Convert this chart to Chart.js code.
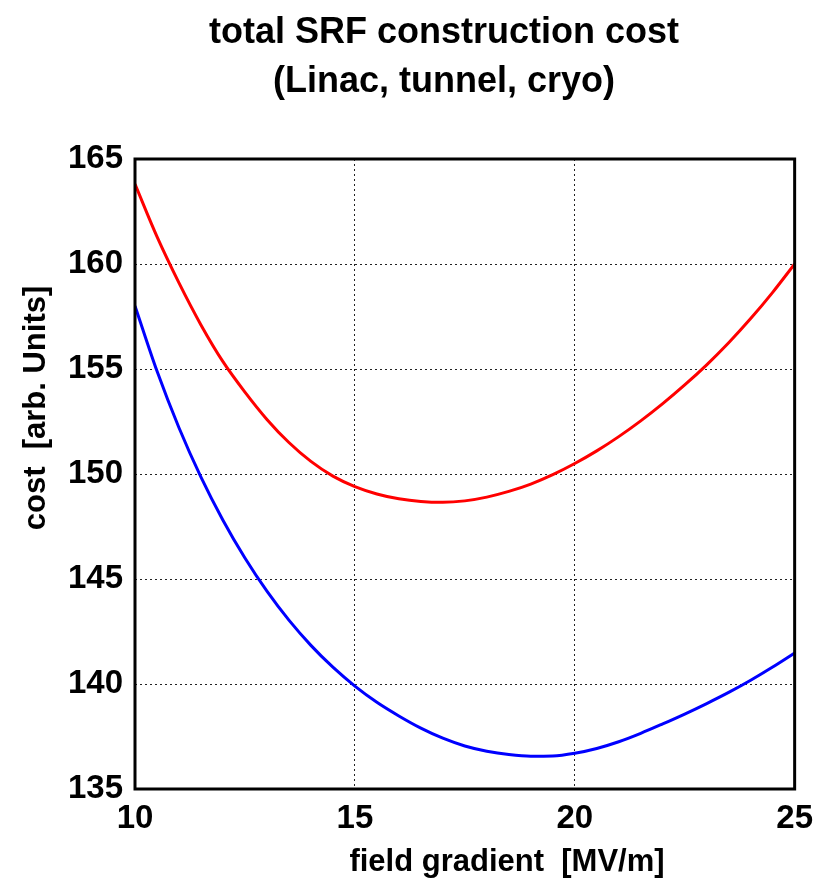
<!DOCTYPE html>
<html>
<head>
<meta charset="utf-8">
<script src="https://cdn.jsdelivr.net/npm/chart.js@4/dist/chart.umd.min.js"></script>
<style>
  html, body { margin: 0; padding: 0; background: #fff; }
  #wrap { width: 823px; height: 886px; }
</style>
</head>
<body>
<div id="wrap"><canvas id="costChart" width="823" height="886"></canvas></div>
<script>
// field gradient [MV/m]
const gradients = [10, 10.5, 11, 11.5, 12, 12.5, 13, 13.5, 14, 14.5, 15, 15.5, 16, 16.5, 17, 17.5,
                   18, 18.5, 19, 19.5, 20, 20.5, 21, 21.5, 22, 22.5, 23, 23.5, 24, 24.5, 25];
// upper curve (red)
const costRed = [163.8, 161.3, 159.1, 157.1, 155.35, 153.9, 152.6, 151.5, 150.6, 149.9, 149.4, 149.05,
                 148.82, 148.69, 148.65, 148.72, 148.9, 149.17, 149.52, 149.97, 150.5, 151.1, 151.78,
                 152.53, 153.35, 154.24, 155.2, 156.25, 157.4, 158.65, 160.0];
// lower curve (blue)
const costBlue = [158.0, 154.9, 152.2, 149.85, 147.8, 146.0, 144.42, 143.04, 141.84, 140.8, 139.9, 139.13,
                  138.48, 137.9, 137.42, 137.05, 136.8, 136.64, 136.56, 136.57, 136.7, 136.93, 137.25,
                  137.65, 138.1, 138.57, 139.07, 139.6, 140.18, 140.81, 141.48];

const xTicks = [10, 15, 20, 25];
const yTicks = [135, 140, 145, 150, 155, 160, 165];

const titleLines = ['total SRF construction cost', '(Linac, tunnel, cryo)'];
const xLabel = 'field gradient  [MV/m]';
const yLabel = 'cost  [arb. Units]';

const FONT = "'Liberation Sans', Arial, Helvetica, sans-serif";

const toPoints = (ys) => gradients.map((g, i) => ({ x: g, y: ys[i] }));

// titles, axis labels and the axes box
const framePlugin = {
  id: 'frame',
  afterDraw(chart) {
    const { ctx, chartArea: a } = chart;
    ctx.save();
    ctx.strokeStyle = '#000';
    ctx.lineWidth = 3;
    ctx.strokeRect(a.left, a.top, a.right - a.left, a.bottom - a.top);

    ctx.fillStyle = '#000';
    ctx.textAlign = 'center';
    ctx.textBaseline = 'middle';
    ctx.font = 'bold 36px ' + FONT;
    ctx.fillText(titleLines[0], 444, 33);
    ctx.fillText(titleLines[1], 444, 82);

    ctx.font = 'bold 31px ' + FONT;
    ctx.fillText(xLabel, 507, 862);

    ctx.translate(36, 408);
    ctx.rotate(-Math.PI / 2);
    ctx.fillText(yLabel, 0, 0);
    ctx.restore();
  }
};

new Chart(document.getElementById('costChart'), {
  type: 'line',
  data: {
    datasets: [
      {
        label: 'red',
        data: toPoints(costRed),
        borderColor: '#ff0000',
        borderWidth: 3,
        pointRadius: 0,
        fill: false,
        cubicInterpolationMode: 'monotone'
      },
      {
        label: 'blue',
        data: toPoints(costBlue),
        borderColor: '#0000ff',
        borderWidth: 3,
        pointRadius: 0,
        fill: false,
        cubicInterpolationMode: 'monotone'
      }
    ]
  },
  options: {
    responsive: false,
    animation: false,
    layout: { padding: { top: 159, right: 24, left: 0, bottom: 0 } },
    plugins: {
      legend: { display: false },
      tooltip: { enabled: false },
      title: { display: false }
    },
    scales: {
      x: {
        type: 'linear',
        min: 10,
        max: 25,
        afterFit: (s) => { s.height = 97; },
        afterBuildTicks: (s) => { s.ticks = xTicks.map(v => ({ value: v })); },
        ticks: {
          color: '#000',
          padding: 10,
          maxRotation: 0,
          font: { family: FONT, size: 33, weight: 'bold' }
        },
        grid: { color: '#222', lineWidth: 1, drawTicks: false },
        border: { display: false, dash: [2, 3] }
      },
      y: {
        min: 135,
        max: 165,
        afterFit: (s) => { s.width = 135; },
        afterBuildTicks: (s) => { s.ticks = yTicks.map(v => ({ value: v })); },
        ticks: {
          color: '#000',
          padding: 12,
          font: { family: FONT, size: 33, weight: 'bold' }
        },
        grid: { color: '#222', lineWidth: 1, drawTicks: false },
        border: { display: false, dash: [2, 3] }
      }
    }
  },
  plugins: [framePlugin]
});
</script>
</body>
</html>
